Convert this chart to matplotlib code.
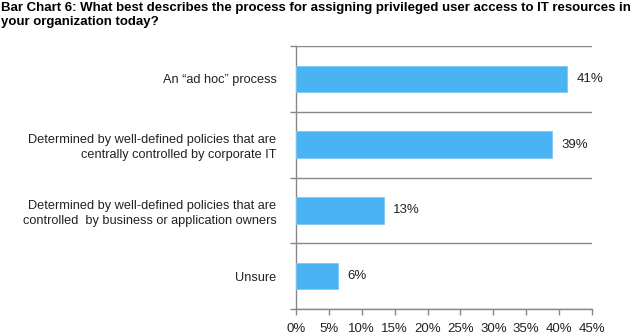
import numpy as np
import matplotlib.pyplot as plt
from matplotlib.ticker import MultipleLocator, FixedLocator, PercentFormatter

plt.rcParams['font.family'] = ['Liberation Sans', 'DejaVu Sans']

# data
categories = [
    'An \u201cad hoc\u201d process',
    'Determined by well-defined policies that are\ncentrally controlled by corporate IT',
    'Determined by well-defined policies that are\ncontrolled  by business or application owners',
    'Unsure',
]
values = [41.2, 38.9, 13.4, 6.4]
value_labels = ['41%', '39%', '13%', '6%']

title = ('Bar Chart 6: What best describes the process for assigning privileged user access to IT resources in\n'
         'your organization today?')

fig = plt.figure(figsize=(6.33, 3.35), dpi=100)
ax = fig.add_axes([296 / 633, 26 / 335, 296 / 633, 263 / 335])

y = np.arange(len(categories))
ax.barh(y, values, height=0.4, color='#4ab3f4', edgecolor='#7cc8f7', linewidth=0.6, zorder=3)

for yi, v, lab in zip(y, values, value_labels):
    ax.text(v + 1.4, yi, lab, va='center', ha='left', fontsize=9.5, color='#222222')

ax.set_ylim(len(categories) - 0.5, -0.5)
ax.set_xlim(0, 45)
ax.xaxis.set_major_locator(MultipleLocator(5))
ax.xaxis.set_major_formatter(PercentFormatter(decimals=0))

ax.set_yticks(y)
ax.set_yticklabels(categories, fontsize=9.2, color='#222222', ha='right', linespacing=1.3)
ax.tick_params(axis='y', which='major', length=0, pad=14)
ax.yaxis.set_minor_locator(FixedLocator(np.arange(-0.5, len(categories), 1.0)))
ax.tick_params(axis='y', which='minor', length=4, color='#888888', width=1)
ax.grid(axis='y', which='minor', color='#888888', linewidth=1, zorder=0)

ax.tick_params(axis='x', length=4, color='#888888', width=1, labelsize=9.5, labelcolor='#222222', pad=6)

for s in ['top', 'right']:
    ax.spines[s].set_visible(False)
ax.spines['left'].set_color('#888888')
ax.spines['bottom'].set_color('#888888')
ax.spines['left'].set_linewidth(1)
ax.spines['bottom'].set_linewidth(1)

fig.text(0.002, 0.995, title, ha='left', va='top', fontsize=9.5, fontweight='bold', linespacing=1.3)

fig.savefig('out.png', dpi=100)
